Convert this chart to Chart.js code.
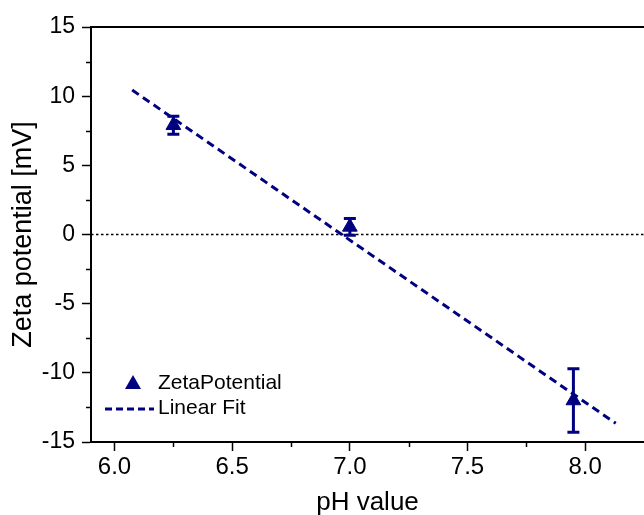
<!DOCTYPE html>
<html>
<head>
<meta charset="utf-8">
<script src="https://cdn.jsdelivr.net/npm/chart.js@4.4.1/dist/chart.umd.min.js"></script>
<style>
html,body{margin:0;padding:0;background:#fff;}
#wrap{width:644px;height:515px;position:relative;}
</style>
</head>
<body>
<div id="wrap"><canvas id="c" width="644" height="515"></canvas></div>
<script>
// ---- data ----
const phValues = [6.25, 7.0, 7.95];
const zetaValues = [7.9, 0.55, -12.0];
const zetaErrors = [0.65, 0.6, 2.3];
const fitX = [6.075, 8.13];
const fitY = [10.44, -13.65];
const xMajorTicks = [6.0, 6.5, 7.0, 7.5, 8.0];
const xMinorTicks = [6.25, 6.75, 7.25, 7.75];
const yMajorTicks = [-15, -10, -5, 0, 5, 10, 15];
const yMinorTicks = [-12.5, -7.5, -2.5, 2.5, 7.5, 12.5];
const seriesNames = ['ZetaPotential', 'Linear Fit'];
const xTitle = 'pH value';
const yTitle = 'Zeta potential [mV]';

const NAVY = '#000080';
const FONT = "Arial, 'Liberation Sans', sans-serif";

const extraPlugin = {
  id: 'extra',
  beforeDatasetsDraw(chart) {
    const {ctx, chartArea: a, scales: {x, y}} = chart;
    ctx.save();
    // zero reference line
    const y0 = y.getPixelForValue(0);
    ctx.strokeStyle = '#000';
    ctx.lineWidth = 1.3;
    ctx.setLineDash([2.5, 2.5]);
    ctx.beginPath();
    ctx.moveTo(a.left, y0); ctx.lineTo(a.right, y0);
    ctx.stroke();
    ctx.setLineDash([]);
    // top border
    ctx.lineWidth = 2;
    ctx.strokeStyle = '#000';
    ctx.beginPath();
    ctx.moveTo(a.left - 1, a.top); ctx.lineTo(a.right, a.top);
    ctx.stroke();
    // minor ticks
    ctx.lineWidth = 1.5;
    xMinorTicks.forEach(v => {
      const px = Math.round(x.getPixelForValue(v)) + 0.5;
      ctx.beginPath(); ctx.moveTo(px, a.bottom); ctx.lineTo(px, a.bottom + 5); ctx.stroke();
    });
    yMinorTicks.forEach(v => {
      const py = Math.round(y.getPixelForValue(v)) + 0.5;
      ctx.beginPath(); ctx.moveTo(a.left, py); ctx.lineTo(a.left - 5, py); ctx.stroke();
    });
    ctx.restore();
  },
  afterDatasetsDraw(chart) {
    const {ctx, chartArea: a, scales: {x, y}} = chart;
    ctx.save();
    // error bars
    ctx.strokeStyle = NAVY;
    ctx.lineWidth = 3;
    phValues.forEach((px, i) => {
      const cx = x.getPixelForValue(px);
      const yt = y.getPixelForValue(zetaValues[i] + zetaErrors[i]);
      const yb = y.getPixelForValue(zetaValues[i] - zetaErrors[i]);
      ctx.beginPath();
      ctx.moveTo(cx, yt); ctx.lineTo(cx, yb);
      ctx.moveTo(cx - 6, yt); ctx.lineTo(cx + 6, yt);
      ctx.moveTo(cx - 6, yb); ctx.lineTo(cx + 6, yb);
      ctx.stroke();
    });
    // legend
    const lx = 133, ly1 = 383, ly2 = 409;
    ctx.fillStyle = NAVY;
    ctx.beginPath();
    ctx.moveTo(lx, ly1 - 8); ctx.lineTo(lx + 8, ly1 + 6); ctx.lineTo(lx - 8, ly1 + 6); ctx.closePath();
    ctx.fill();
    ctx.strokeStyle = NAVY;
    ctx.lineWidth = 3;
    ctx.setLineDash([7, 4]);
    ctx.beginPath(); ctx.moveTo(105, ly2); ctx.lineTo(154, ly2); ctx.stroke();
    ctx.setLineDash([]);
    ctx.fillStyle = '#000';
    ctx.font = "21px " + FONT;
    ctx.textBaseline = 'middle';
    ctx.textAlign = 'left';
    ctx.fillText(seriesNames[0], 158, ly1);
    ctx.fillText(seriesNames[1], 158, ly2 - 1);
    ctx.restore();
  }
};

new Chart(document.getElementById('c'), {
  type: 'scatter',
  data: {
    datasets: [
      {
        label: seriesNames[1],
        data: fitX.map((v, i) => ({x: v, y: fitY[i]})),
        showLine: true,
        borderColor: NAVY,
        borderWidth: 3,
        borderDash: [8, 5],
        pointRadius: 0,
        fill: false,
        order: 2
      },
      {
        label: seriesNames[0],
        data: phValues.map((v, i) => ({x: v, y: zetaValues[i]})),
        pointStyle: 'triangle',
        pointRadius: 8.5,
        backgroundColor: NAVY,
        borderColor: NAVY,
        borderWidth: 1,
        showLine: false,
        order: 1
      }
    ]
  },
  options: {
    responsive: false,
    animation: false,
    events: [],
    layout: {autoPadding: false, padding: {top: 27, right: 0, left: 0, bottom: 0}},
    plugins: {legend: {display: false}, tooltip: {enabled: false}},
    scales: {
      x: {
        type: 'linear',
        min: 5.9, max: 8.25,
        afterBuildTicks(s) { s.ticks = xMajorTicks.map(v => ({value: v})); },
        afterFit(s) { s.height = 73; s.paddingLeft = 0; s.paddingRight = 0; },
        ticks: {
          color: '#000', font: {size: 24, family: FONT}, padding: 2,
          maxRotation: 0, autoSkip: false,
          callback: v => Number(v).toFixed(1)
        },
        grid: {drawOnChartArea: false, tickLength: 9, tickWidth: 1.5, tickColor: '#000'},
        border: {display: true, color: '#000', width: 2},
        title: {display: true, text: xTitle, color: '#000', font: {size: 26, family: FONT, lineHeight: 0.9}, padding: {top: 0, bottom: 0}}
      },
      y: {
        type: 'linear',
        min: -15, max: 15,
        afterBuildTicks(s) { s.ticks = yMajorTicks.map(v => ({value: v})); },
        afterFit(s) { s.width = 91; },
        ticks: {
          color: '#000', font: {size: 23, family: FONT}, padding: 7,
          autoSkip: false,
          callback: v => String(v)
        },
        grid: {drawOnChartArea: false, tickLength: 9, tickWidth: 1.5, tickColor: '#000'},
        border: {display: true, color: '#000', width: 2},
        title: {display: true, text: yTitle, color: '#000', font: {size: 27, family: FONT, lineHeight: 0.9}, padding: {top: 11, bottom: 0}}
      }
    }
  },
  plugins: [extraPlugin]
});
</script>
</body>
</html>
